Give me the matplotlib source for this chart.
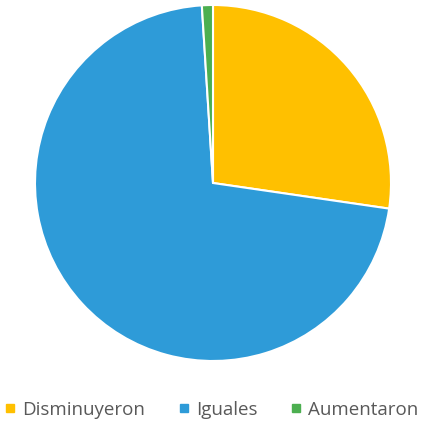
import matplotlib
matplotlib.use('Agg')
import matplotlib.pyplot as plt
from matplotlib.lines import Line2D

labels = ['Disminuyeron', 'Iguales', 'Aumentaron']
values = [27.3, 71.7, 1.0]
colors = ['#FFC000', '#2E9BD8', '#4CAF50']


def main():
    fig = plt.figure(figsize=(4.24, 4.25), dpi=100)
    cx, cy, r = 213, 183, 178
    ax = fig.add_axes([(cx - r) / 424, (425 - cy - r) / 425, 2 * r / 424, 2 * r / 425])
    ax.pie(values, colors=colors, startangle=90, counterclock=False,
           wedgeprops=dict(edgecolor='white', linewidth=1.5))
    ax.set_xlim(-1, 1)
    ax.set_ylim(-1, 1)
    ax.set_aspect('equal')
    ax.axis('off')

    handles = [Line2D([], [], marker='s', linestyle='none', markersize=5.5,
                      markerfacecolor=c, markeredgecolor=c) for c in colors]
    fig.legend(handles, labels, loc='center', bbox_to_anchor=(0.5, 1 - 410 / 425),
               ncol=3, frameon=False, handlelength=0.5, handletextpad=0.4,
               columnspacing=1.8, borderpad=0, borderaxespad=0,
               prop=dict(family='Open Sans', size=13.5), labelcolor='#595959')
    fig.savefig('out.png', dpi=100)


if __name__ == '__main__':
    main()
